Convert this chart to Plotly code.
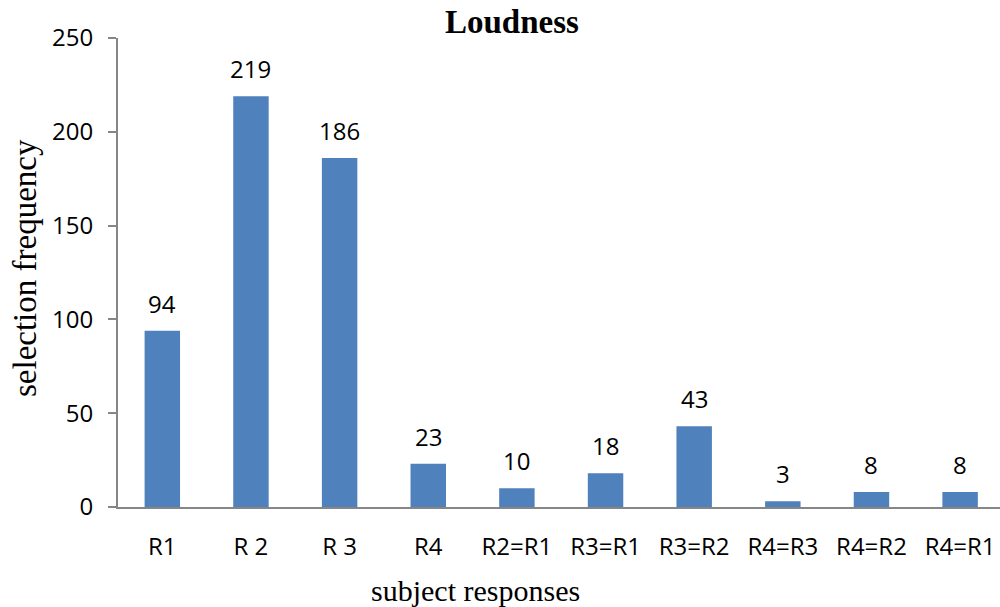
import plotly.graph_objects as go

# Selection frequencies per subject response
categories = ["R1", "R 2", "R 3", "R4", "R2=R1", "R3=R1", "R3=R2", "R4=R3", "R4=R2", "R4=R1"]
frequency = [94, 219, 186, 23, 10, 18, 43, 3, 8, 8]

BAR_COLOR = "#4F81BD"
AXIS_COLOR = "#868686"
SANS = "Open Sans"
SERIF = "Liberation Serif"

W, H = 1000, 607
ML, MR, MT, MB = 118, 0, 38, 100
PW, PH = W - ML - MR, H - MT - MB


def px_to_paper(px, py):
    return (px - ML) / PW, (H - MB - py) / PH


x_idx = list(range(len(categories)))

fig = go.Figure(
    go.Bar(
        x=x_idx,
        y=frequency,
        width=0.4,
        marker=dict(color=BAR_COLOR, line=dict(width=0)),
        hoverinfo="skip",
    )
)

# value labels above bars
for i, v in zip(x_idx, frequency):
    fig.add_annotation(
        x=i, y=v, xref="x", yref="y", text=str(v), showarrow=False,
        yanchor="bottom", yshift=9,
        font=dict(family=SANS, size=24, color="#000000"),
    )

tx, ty = px_to_paper(512, 22)
fig.add_annotation(x=tx, y=ty, xref="paper", yref="paper", text="<b>Loudness</b>",
                   showarrow=False, xanchor="center", yanchor="middle",
                   font=dict(family=SERIF, size=33, color="#000000"))

ax, ay = px_to_paper(475, 590)
fig.add_annotation(x=ax, y=ay, xref="paper", yref="paper", text="subject responses",
                   showarrow=False, xanchor="center", yanchor="middle",
                   font=dict(family=SERIF, size=30, color="#000000"))

yx, yy = px_to_paper(25, 268)
fig.add_annotation(x=yx, y=yy, xref="paper", yref="paper", text="selection frequency",
                   showarrow=False, xanchor="center", yanchor="middle", textangle=-90,
                   font=dict(family=SERIF, size=33, color="#000000"))

fig.update_layout(
    width=W, height=H,
    margin=dict(l=ML, r=MR, t=MT, b=MB, autoexpand=False),
    paper_bgcolor="white", plot_bgcolor="white",
    showlegend=False,
    bargap=0.6,
)

fig.update_xaxes(
    range=[-0.5, 9.45],
    tickmode="array", tickvals=x_idx, ticktext=categories,
    tickfont=dict(family=SANS, size=24, color="#000000"),
    showline=True, linecolor=AXIS_COLOR, linewidth=2,
    showgrid=False, zeroline=False, ticks="",
    ticklabelstandoff=17,
)

fig.update_yaxes(
    range=[0, 250], tickvals=[0, 50, 100, 150, 200, 250],
    tickfont=dict(family=SANS, size=24, color="#000000"),
    showline=True, linecolor=AXIS_COLOR, linewidth=2,
    showgrid=False, zeroline=False,
    ticks="outside", ticklen=8, tickwidth=2, tickcolor=AXIS_COLOR,
    ticklabelstandoff=10,
)

fig.write_html("out.html")
